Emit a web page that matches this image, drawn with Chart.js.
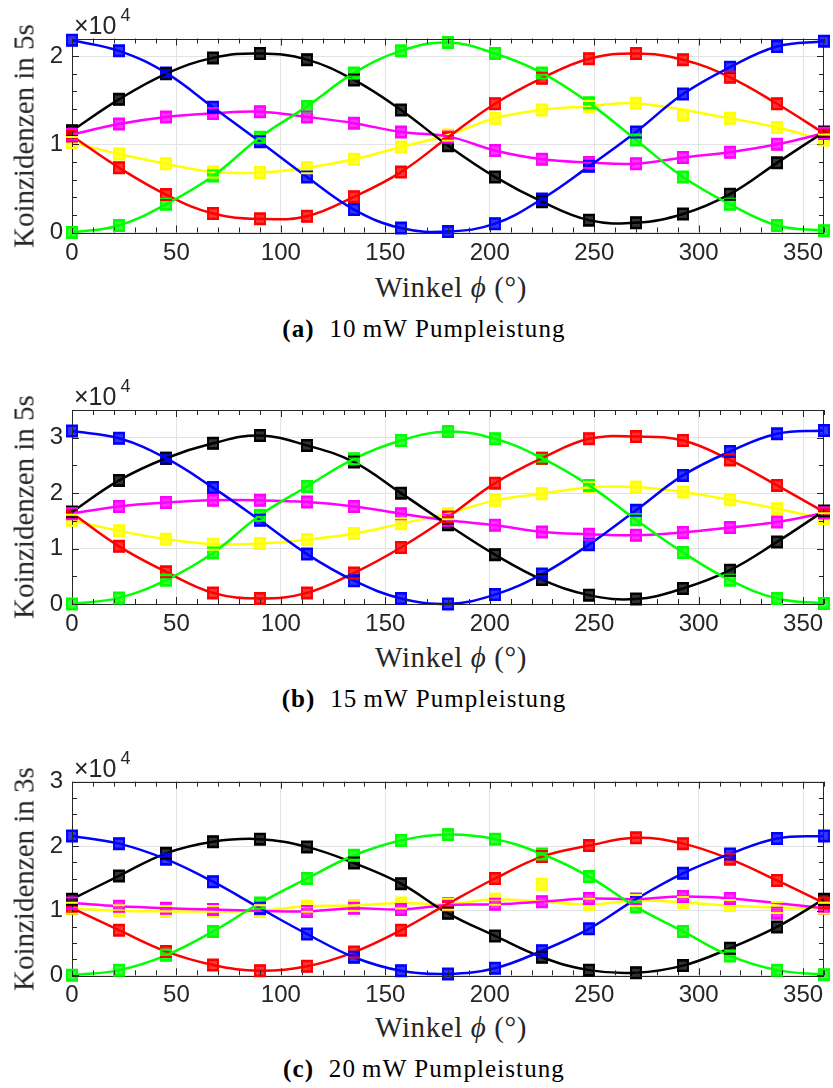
<!DOCTYPE html>
<html>
<head>
<meta charset="utf-8">
<script src="https://cdn.jsdelivr.net/npm/chart.js@4"></script>
<style>
  body { margin: 0; background: #fff; }
  #page { position: relative; width: 833px; height: 1088px; overflow: hidden; }
  .panel { position: absolute; left: 0; width: 833px; height: 370px; }
  .panel canvas { position: absolute; left: 0; top: 0; }
  .txt { position: absolute; white-space: nowrap; font-family: "Liberation Serif", "Times New Roman", serif; color: #262626; transform: translate(-50%, -50%); }
  .ylab { font-size: 29px; transform: translate(-50%, -50%) rotate(-90deg); }
  .xlab { font-size: 29px; letter-spacing: 0.6px; }
  .cap { font-size: 25px; color: #000; letter-spacing: 1.1px; }
  .exp { position: absolute; font-family: "Liberation Sans", sans-serif; font-size: 25px; color: #262626; white-space: nowrap; }
  .exp sup { font-size: 18px; position: relative; top: -4px; margin-left: 4px; }
</style>
</head>
<body>
<div id="page"></div>
<script>
// angles of the measurement points (degrees)
const angles = [0, 22.5, 45, 67.5, 90, 112.5, 135, 157.5, 180, 202.5, 225, 247.5, 270, 292.5, 315, 337.5, 360];
const xTicks = [0, 50, 100, 150, 200, 250, 300, 350];

// (a) 10 mW, counts in 5 s
const blue10 = [21800, 20600, 18100, 14200, 10300, 6300, 2600, 500, 100, 1000, 3800, 7500, 11400, 15700, 18750, 21100, 21700];
const black10 = [11550, 15100, 18000, 19800, 20300, 19600, 17300, 13900, 9850, 6300, 3500, 1400, 1100, 2100, 4350, 7900, 11400];
const green10 = [0, 800, 3200, 6400, 10800, 14300, 18100, 20600, 21550, 20300, 18100, 14700, 10500, 6300, 3200, 800, 200];
const red10 = [10950, 7350, 4300, 2150, 1550, 1850, 4050, 6850, 10800, 14600, 17500, 19700, 20300, 19600, 17600, 14600, 11250];
const magenta10 = [11100, 12300, 13100, 13500, 13700, 13100, 12400, 11400, 10900, 9300, 8300, 7950, 7800, 8500, 9100, 10000, 11250];
const yellow10 = [10200, 8900, 7800, 6850, 6800, 7350, 8300, 9700, 11050, 12950, 13900, 14300, 14650, 13300, 12950, 11900, 10500];
const yTicks10 = [0, 10000, 20000];

// (b) 15 mW, counts in 5 s
const blue15 = [31200, 29900, 26300, 21000, 15100, 9000, 4200, 1000, 0, 1700, 5400, 10700, 16900, 23200, 27500, 30700, 31300];
const black15 = [16600, 22300, 26300, 29000, 30400, 28600, 25600, 20000, 14300, 8900, 4400, 1600, 900, 2800, 6100, 11200, 16800];
const green15 = [0, 1100, 4300, 9200, 16000, 21200, 26200, 29500, 31100, 29800, 26300, 21400, 15200, 9300, 4300, 1000, 100];
const red15 = [16400, 10400, 5800, 2000, 1000, 2000, 5600, 10200, 15700, 21800, 26300, 29800, 30200, 29500, 26000, 21400, 16600];
const magenta15 = [16300, 17600, 18300, 18700, 18700, 18400, 17600, 16300, 15100, 14200, 13000, 12600, 12400, 12900, 13800, 14800, 16400];
const yellow15 = [15100, 13200, 11700, 10800, 10900, 11600, 12700, 14500, 16300, 18700, 19900, 21000, 21100, 20200, 18800, 17200, 15400];
const yTicks15 = [0, 10000, 20000, 30000];

// (c) 20 mW, counts in 3 s
const blue20 = [21600, 20400, 18000, 14500, 10400, 6400, 2800, 700, 200, 1100, 3800, 7200, 11800, 15800, 18800, 21200, 21600];
const black20 = [11800, 15400, 18900, 20700, 21100, 19900, 17400, 14200, 9600, 6100, 2800, 800, 400, 1500, 4200, 7500, 11800];
const green20 = [0, 800, 3100, 6800, 11200, 15000, 18600, 20900, 21800, 21100, 18800, 15300, 10600, 6800, 3000, 800, 100];
const red20 = [10400, 7000, 3700, 1600, 700, 1400, 3600, 7000, 11100, 15000, 18400, 20100, 21300, 20400, 18000, 14700, 11200];
const magenta20 = [11200, 10700, 10400, 10200, 10000, 9900, 10400, 10200, 10900, 11000, 11400, 11900, 11800, 12200, 11900, 9600, 10400];
const yellow20 = [10400, 10000, 9900, 9900, 10000, 10700, 10800, 11200, 11000, 11800, 14100, 11000, 11600, 11300, 10800, 10500, 10400];
const yTicks20 = [0, 10000, 20000, 30000];

const colors = { blue: "#0000ff", black: "#000000", green: "#00ff00", red: "#ff0000", magenta: "#ff00ff", yellow: "#ffff00" };

const panels = [
  { top: 0, label: "(a)", power: "10", time: "5s", max: 22000, minor: 2000, yTicks: yTicks10, padTop: 38.5, bottom: 232.5,
    series: [["green", green10], ["blue", blue10], ["red", red10], ["black", black10], ["magenta", magenta10], ["yellow", yellow10]],
    outliers: { yellow: [13] } },
  { top: 370, label: "(b)", power: "15", time: "5s", max: 35000, minor: 5000, yTicks: yTicks15, padTop: 40, bottom: 234,
    series: [["green", green15], ["blue", blue15], ["red", red15], ["black", black15], ["magenta", magenta15], ["yellow", yellow15]],
    outliers: {} },
  { top: 740, label: "(c)", power: "20", time: "3s", max: 30000, minor: 2500, yTicks: yTicks20, padTop: 41.7, bottom: 235.3,
    series: [["green", green20], ["blue", blue20], ["red", red20], ["black", black20], ["magenta", magenta20], ["yellow", yellow20]],
    outliers: { yellow: [10], magenta: [15] } },
];

const CH = 270;

// box around the axes with inward MATLAB-style ticks on all four sides
const boxTicks = {
  id: "boxTicks",
  afterDatasetsDraw(chart, args, opts) {
    const { ctx, chartArea: a, scales: { x, y } } = chart;
    ctx.save();
    ctx.strokeStyle = "#262626";
    ctx.lineWidth = 1;
    ctx.beginPath();
    for (let v = 0; v <= 360; v += 10) {
      const px = Math.round(x.getPixelForValue(v)) + 0.5;
      const len = v % 50 === 0 ? 7 : 5;
      ctx.moveTo(px, a.bottom); ctx.lineTo(px, a.bottom - len);
      ctx.moveTo(px, a.top); ctx.lineTo(px, a.top + len);
    }
    for (let v = 0; v <= opts.max; v += opts.minor) {
      const py = Math.round(y.getPixelForValue(v)) + 0.5;
      const len = v % 10000 === 0 ? 7 : 5;
      ctx.moveTo(a.left, py); ctx.lineTo(a.left + len, py);
      ctx.moveTo(a.right, py); ctx.lineTo(a.right - len, py);
    }
    ctx.stroke();
    ctx.strokeRect(Math.round(a.left) + 0.5, Math.round(a.top) + 0.5, Math.round(a.width) - 1, Math.round(a.height));
    ctx.restore();
  }
};

// small error-bar caps above and below each marker
const errCaps = {
  id: "errCaps",
  afterDatasetsDraw(chart) {
    const ctx = chart.ctx;
    ctx.save();
    ctx.lineWidth = 2;
    chart.data.datasets.forEach((ds, i) => {
      if (ds.type !== "scatter") return;
      ctx.strokeStyle = ds.borderColor;
      ctx.beginPath();
      chart.getDatasetMeta(i).data.forEach((pt) => {
        ctx.moveTo(pt.x - 6, pt.y - 5.5); ctx.lineTo(pt.x + 6, pt.y - 5.5);
        ctx.moveTo(pt.x - 6, pt.y + 5.5); ctx.lineTo(pt.x + 6, pt.y + 5.5);
      });
      ctx.stroke();
    });
    ctx.restore();
  }
};

const page = document.getElementById("page");

panels.forEach((p) => {
  const div = document.createElement("div");
  div.className = "panel";
  div.style.top = p.top + "px";
  div.innerHTML = `
    <canvas width="833" height="${CH}"></canvas>
    <div class="txt ylab" style="left:24px; top:${(p.padTop + p.bottom) / 2}px">Koinzidenzen in ${p.time}</div>
    <div class="exp" style="left:74px; top:${p.padTop - 30}px">×10<sup>4</sup></div>
    <div class="txt xlab" style="left:451px; top:287px">Winkel <i>ϕ</i> (°)</div>
    <div class="txt cap" style="left:424px; top:329px"><b>${p.label}</b>&nbsp; ${p.power}&thinsp;mW Pumpleistung</div>`;
  page.appendChild(div);

  const datasets = [];
  p.series.forEach(([name, vals]) => {
    const skip = p.outliers[name] || [];
    datasets.push({
      type: "line",
      data: angles.map((a, i) => ({ x: a, y: skip.includes(i) ? null : vals[i] })),
      borderColor: colors[name],
      borderWidth: 2.5,
      pointRadius: 0,
      tension: 0.4,
      spanGaps: true,
      clip: false,
    });
  });
  p.series.forEach(([name, vals]) => {
    datasets.push({
      type: "scatter",
      data: angles.map((a, i) => ({ x: a, y: vals[i] })),
      borderColor: colors[name],
      backgroundColor: colors[name] + "cc",
      borderWidth: 2,
      pointStyle: "rect",
      pointRadius: 7,
      clip: false,
    });
  });

  new Chart(div.querySelector("canvas"), {
    data: { datasets },
    options: {
      responsive: false,
      animation: false,
      events: [],
      layout: { padding: { top: p.padTop, right: 2, left: 0, bottom: 0 } },
      plugins: { legend: { display: false }, tooltip: { enabled: false }, boxTicks: { max: p.max, minor: p.minor } },
      scales: {
        x: {
          type: "linear", min: 0, max: 360,
          ticks: { autoSkip: false, color: "#262626", font: { family: "Liberation Sans", size: 24 }, padding: 6, maxRotation: 0 },
          grid: { color: "#e3e3e3", drawTicks: false },
          border: { display: false },
          afterBuildTicks: (s) => { s.ticks = xTicks.map((v) => ({ value: v })); },
          afterFit: (s) => { s.height = CH - p.bottom; },
        },
        y: {
          min: 0, max: p.max,
          ticks: { autoSkip: false, color: "#262626", font: { family: "Liberation Sans", size: 24 }, padding: 9, callback: (v) => v / 10000 },
          grid: { color: "#e3e3e3", drawTicks: false },
          border: { display: false },
          afterBuildTicks: (s) => { s.ticks = p.yTicks.map((v) => ({ value: v })); },
          afterFit: (s) => { s.width = 72; },
        },
      },
    },
    plugins: [boxTicks, errCaps],
  });
});
</script>
</body>
</html>
